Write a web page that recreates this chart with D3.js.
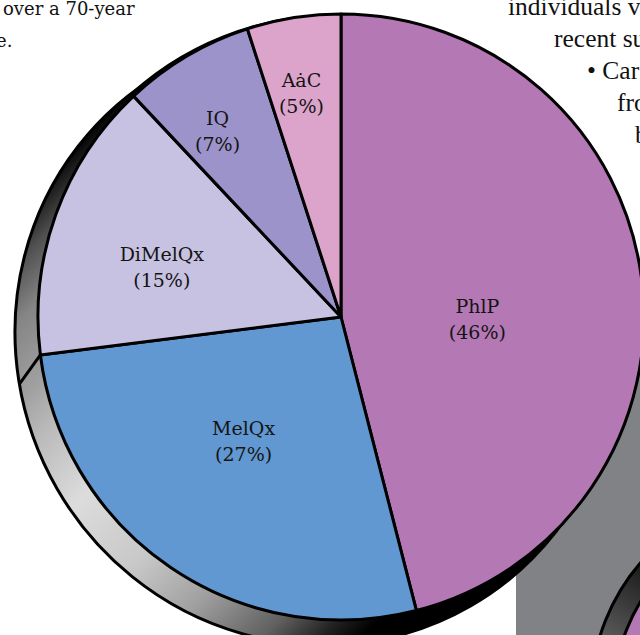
<!DOCTYPE html>
<html>
<head>
<meta charset="utf-8">
<script src="https://cdn.jsdelivr.net/npm/d3@7"></script>
<style>
  html, body { margin: 0; padding: 0; background: #ffffff; }
  svg { display: block; }
</style>
</head>
<body>
<svg id="chart" width="640" height="635"></svg>
<script>
// Slice data
const categories = ["PhlP", "MelQx", "DiMelQx", "IQ", "A\u0227C"];
const shares = [46, 27, 15, 7, 5];
const sliceColors = ["#B478B4", "#6198D1", "#C7C2E1", "#9B93C9", "#DCA4CB"];

// Surrounding page text
const docLeftLines = ["over a 70-year", "e."];
const docRightLines = ["individuals v", "recent su", "\u2022 Car", "fro", "b"];

// Label placement (fraction of radius, angular nudge in degrees)
const labelRadius = [0.45, 0.52, 0.614, 0.736, 0.752];
const labelTurn = [8, 4, -4.2, -3, -1];

const svg = d3.select("#chart");

// ---- page text behind the chart ----
const leftX = [3, -4];
svg.append("g").selectAll("text").data(docLeftLines).join("text")
  .attr("x", (d, i) => leftX[i])
  .attr("y", (d, i) => 15 + i * 32)
  .attr("font-family", "DejaVu Serif")
  .attr("font-size", 18)
  .attr("fill", "#111")
  .text(d => d);

const rightX = [508, 554, 587, 617, 635];
svg.append("g").selectAll("text").data(docRightLines).join("text")
  .attr("x", (d, i) => rightX[i])
  .attr("y", (d, i) => 15 + i * 32)
  .attr("font-family", "Liberation Serif")
  .attr("font-size", 25.5)
  .attr("fill", "#111")
  .text(d => d);

// ---- neighbouring panel in the lower right ----
const defs = svg.append("defs");
defs.append("clipPath").attr("id", "panelClip")
  .append("rect").attr("x", 516).attr("y", 340).attr("width", 124).attr("height", 295);

const panel = svg.append("g").attr("clip-path", "url(#panelClip)");
panel.append("rect").attr("x", 516).attr("y", 340).attr("width", 124).attr("height", 295)
  .attr("fill", "#808285");

const sideDark = defs.append("linearGradient").attr("id", "sideDark")
  .attr("gradientUnits", "userSpaceOnUse")
  .attr("x1", 640).attr("y1", 565).attr("x2", 600).attr("y2", 635);
sideDark.append("stop").attr("offset", 0).attr("stop-color", "#1c1c1c");
sideDark.append("stop").attr("offset", 1).attr("stop-color", "#5a5a5a");

const p2 = { x: 795, y: 696 };
panel.append("circle").attr("cx", p2.x).attr("cy", p2.y).attr("r", 204)
  .attr("fill", "url(#sideDark)").attr("stroke", "#000").attr("stroke-width", 3);
panel.append("circle").attr("cx", p2.x).attr("cy", p2.y).attr("r", 181)
  .attr("fill", sliceColors[0]).attr("stroke", "#000").attr("stroke-width", 3);

// ---- main pie ----
const C1 = { x: 341, y: 317 }, R1 = 303;                 // front face
// back face of the extrusion: a slightly tilted ellipse seen in perspective
const back = { x: C1.x - 24, y: C1.y + 22, a: 308, b: 300, tilt: 60 };
// thin upper-left edge of the side, where it wraps towards the top
const rimTail = { x: C1.x - 6, y: C1.y + 1.5, r: R1 };
const extrude = [-0.586, 0.81];                           // depth direction near the left

// gradient on the extruded side, running along the top-left to bottom-right diagonal
const sideGrad = defs.append("linearGradient").attr("id", "sideGrad")
  .attr("gradientUnits", "userSpaceOnUse")
  .attr("x1", 0).attr("y1", 0).attr("x2", 600).attr("y2", 600);
[[0.183, "#000000"], [0.233, "#505050"], [0.283, "#858585"], [0.35, "#a0a0a0"],
 [0.392, "#b8b8b8"], [0.483, "#dcdcdc"], [0.583, "#c8c8c8"], [0.667, "#a0a0a0"],
 [0.75, "#606060"], [0.8, "#202020"], [0.833, "#000000"]]
  .forEach(([o, c]) => sideGrad.append("stop").attr("offset", o).attr("stop-color", c));

svg.append("circle").attr("cx", rimTail.x).attr("cy", rimTail.y).attr("r", rimTail.r)
  .attr("fill", "#000").attr("stroke", "#000").attr("stroke-width", 3);

const tr = back.tilt * Math.PI / 180;
const ux = Math.cos(tr), uy = Math.sin(tr);
const e0 = [back.x + back.a * ux, back.y + back.a * uy];
const e1 = [back.x - back.a * ux, back.y - back.a * uy];
const sidePath = `M${e0}A${back.a},${back.b},${back.tilt},1,1,${e1}` +
                 `A${back.a},${back.b},${back.tilt},1,1,${e0}Z`;
svg.append("path").attr("d", sidePath)
  .attr("fill", "url(#sideGrad)").attr("stroke", "#000").attr("stroke-width", 3);

const pie = d3.pie().sort(null).value(d => d);
const arcs = pie(shares);

// where a ray from the front rim along the depth direction meets the back ellipse
function backHit(px, py) {
  const toLocal = (x, y) => [x * ux + y * uy, -x * uy + y * ux];
  const [qx, qy] = toLocal(px - back.x, py - back.y);
  const [dx, dy] = toLocal(extrude[0], extrude[1]);
  const A = dx * dx / (back.a * back.a) + dy * dy / (back.b * back.b);
  const B = 2 * (qx * dx / (back.a * back.a) + qy * dy / (back.b * back.b));
  const Cq = qx * qx / (back.a * back.a) + qy * qy / (back.b * back.b) - 1;
  const disc = B * B - 4 * A * Cq;
  if (disc < 0) return null;
  const s = (-B + Math.sqrt(disc)) / (2 * A);
  return s > 2 ? [px + s * extrude[0], py + s * extrude[1]] : null;
}

// slice edges continued across the visible side (left half only)
const sideEdges = arcs.map(a => a.endAngle)
  .filter(a => a > Math.PI && a < 1.75 * Math.PI)
  .map(a => {
    const fx = C1.x + R1 * Math.sin(a), fy = C1.y - R1 * Math.cos(a);
    return { fx, fy, hit: backHit(fx, fy) };
  })
  .filter(d => d.hit);
svg.append("g").selectAll("line").data(sideEdges).join("line")
  .attr("x1", d => d.fx).attr("y1", d => d.fy)
  .attr("x2", d => d.hit[0]).attr("y2", d => d.hit[1])
  .attr("stroke", "#000").attr("stroke-width", 3);

const arc = d3.arc().innerRadius(0).outerRadius(R1);
const g = svg.append("g").attr("transform", `translate(${C1.x},${C1.y})`);
g.selectAll("path.slice").data(arcs).join("path")
  .attr("class", "slice")
  .attr("d", arc)
  .attr("fill", (d, i) => sliceColors[i])
  .attr("stroke", "#000").attr("stroke-width", 3)
  .attr("stroke-linejoin", "round");

// labels
g.selectAll("text.lbl").data(arcs).join("text")
  .attr("class", "lbl")
  .attr("font-family", "DejaVu Serif")
  .attr("font-size", 19)
  .attr("fill", "#141414")
  .attr("text-anchor", "middle")
  .each(function (d, i) {
    const a = (d.startAngle + d.endAngle) / 2 + labelTurn[i] * Math.PI / 180;
    const rho = labelRadius[i] * R1;
    const x = rho * Math.sin(a), y = -rho * Math.cos(a);
    const t = d3.select(this);
    t.append("tspan").attr("x", x).attr("y", y - 6).text(categories[i]);
    t.append("tspan").attr("x", x).attr("y", y + 20).text(`(${shares[i]}%)`);
  });
</script>
</body>
</html>
